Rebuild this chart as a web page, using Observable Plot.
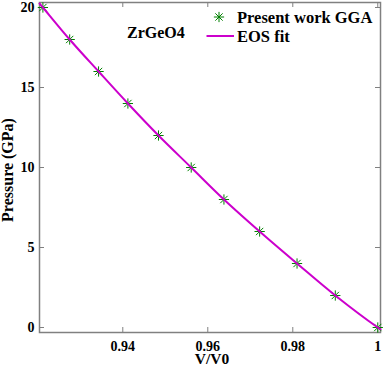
<!DOCTYPE html>
<html><head><meta charset="utf-8">
<script src="https://cdn.jsdelivr.net/npm/d3@7"></script>
<script src="https://cdn.jsdelivr.net/npm/@observablehq/plot@0.6"></script>
<style>html,body{margin:0;padding:0;background:#fff} svg{display:block}</style>
</head><body><div id="chart"></div>
<script>
// Data
const volumeRatio = [0.9212, 0.9275, 0.9343, 0.9412, 0.9484, 0.9561, 0.9638, 0.9722, 0.9810, 0.9900, 1.0000];
const pressure    = [20, 18, 16, 14, 12, 10, 8, 6, 4, 2, 0];
const fitVolumeRatio = [0.9204, 0.9212, 0.9275, 0.9343, 0.9412, 0.9484, 0.9561, 0.9638, 0.9722, 0.9810, 0.9900, 1.0000, 1.00064];
const fitPressure    = [20.25, 20, 18, 16, 14, 12, 10, 8, 6, 4, 2, 0, -0.11];
const xTicks = [0.94, 0.96, 0.98, 1];
const xTickLabels = ["0.94", "0.96", "0.98", "1"];
const yTicks = [0, 5, 10, 15, 20];
const yTickLabels = ["0", "5", "10", "15", "20"];
const seriesLabels = ["Present work GGA", "EOS fit"];
const annotationText = "ZrGeO4";
const xLabel = "V/V0";
const yLabel = "Pressure (GPa)";

const W = 384, H = 367;
const mL = 39, mR = 4, mT = 2, mB = 35;
const xDomain = [0.9204, 1.00064];
const yDomain = [-0.3125, 20.3125];
const frameColor = "#808080";
const pointColor = "#008000";
const lineColor = "#cc00cc";
const font = "'Liberation Serif', 'Times New Roman', serif";

const points = volumeRatio.map((v, i) => ({v, p: pressure[i]}));
const fit = fitVolumeRatio.map((v, i) => ({v, p: fitPressure[i]}));

// tick lengths (5 px) converted to data units
const tickPx = 5;
const xPerPx = (xDomain[1] - xDomain[0]) / (W - mL - mR);
const yPerPx = (yDomain[1] - yDomain[0]) / (H - mT - mB);
const tx = tickPx * xPerPx, ty = tickPx * yPerPx;

const plot = Plot.plot({
  width: W, height: H,
  marginLeft: mL, marginRight: mR, marginTop: mT, marginBottom: mB,
  style: {fontFamily: font, fontWeight: "bold", background: "#fff", overflow: "visible"},
  x: {domain: xDomain},
  y: {domain: yDomain},
  marks: [
    Plot.axisX({ticks: xTicks, tickSize: 0, tickPadding: 8.5, fontSize: 14, fill: "#000",
      tickFormat: d => xTickLabels[xTicks.indexOf(d)], label: null}),
    Plot.axisY({ticks: yTicks, tickSize: 0, tickPadding: 5, fontSize: 14, fill: "#000",
      tickFormat: d => yTickLabels[yTicks.indexOf(d)], label: null}),
    // inward ticks on all four sides
    Plot.ruleX(xTicks, {x: d => d, y1: yDomain[0], y2: yDomain[0] + ty, stroke: frameColor, strokeWidth: 1}),
    Plot.ruleX(xTicks, {x: d => d, y1: yDomain[1] - ty, y2: yDomain[1], stroke: frameColor, strokeWidth: 1}),
    Plot.ruleY(yTicks, {y: d => d, x1: xDomain[0], x2: xDomain[0] + tx, stroke: frameColor, strokeWidth: 1}),
    Plot.ruleY(yTicks, {y: d => d, x1: xDomain[1] - tx, x2: xDomain[1], stroke: frameColor, strokeWidth: 1}),
    Plot.frame({stroke: frameColor, strokeWidth: 1.5}),
    // asterisk markers = plus + times
    Plot.dot(points, {x: "v", y: "p", symbol: "plus", r: 3.4, stroke: pointColor, strokeWidth: 1}),
    Plot.dot(points, {x: "v", y: "p", symbol: "times", r: 3.4, stroke: pointColor, strokeWidth: 1}),
    Plot.line(fit, {x: "v", y: "p", curve: "catmull-rom", stroke: lineColor, strokeWidth: 2})
  ]
});

const svg = d3.select(plot);
const g = svg.append("g").attr("font-family", font).attr("font-weight", "bold").attr("fill", "#000");

// axis titles
g.append("text").attr("x", 212).attr("y", 363.5).attr("text-anchor", "middle").attr("font-size", 15.5).text(xLabel);
g.append("text").attr("transform", "translate(12.5,170) rotate(-90)").attr("text-anchor", "middle").attr("font-size", 16).text(yLabel);

// annotation
g.append("text").attr("x", 127).attr("y", 38).attr("text-anchor", "start").attr("font-size", 16).text(annotationText);

// legend
const leg = g.append("g");
const sz = Math.PI * 3.4 * 3.4;
leg.append("path").attr("transform", "translate(219,17)").attr("d", d3.symbol(d3.symbolPlus, sz)()).attr("fill", "none").attr("stroke", pointColor);
leg.append("path").attr("transform", "translate(219,17)").attr("d", d3.symbol(d3.symbolTimes, sz)()).attr("fill", "none").attr("stroke", pointColor);
leg.append("text").attr("x", 237).attr("y", 22.5).attr("text-anchor", "start").attr("font-size", 16.5).text(seriesLabels[0]);
leg.append("line").attr("x1", 206.5).attr("x2", 234).attr("y1", 36).attr("y2", 36).attr("stroke", lineColor).attr("stroke-width", 2);
leg.append("text").attr("x", 237).attr("y", 42).attr("text-anchor", "start").attr("font-size", 16.5).text(seriesLabels[1]);

document.getElementById("chart").appendChild(plot);
</script>
</body></html>
